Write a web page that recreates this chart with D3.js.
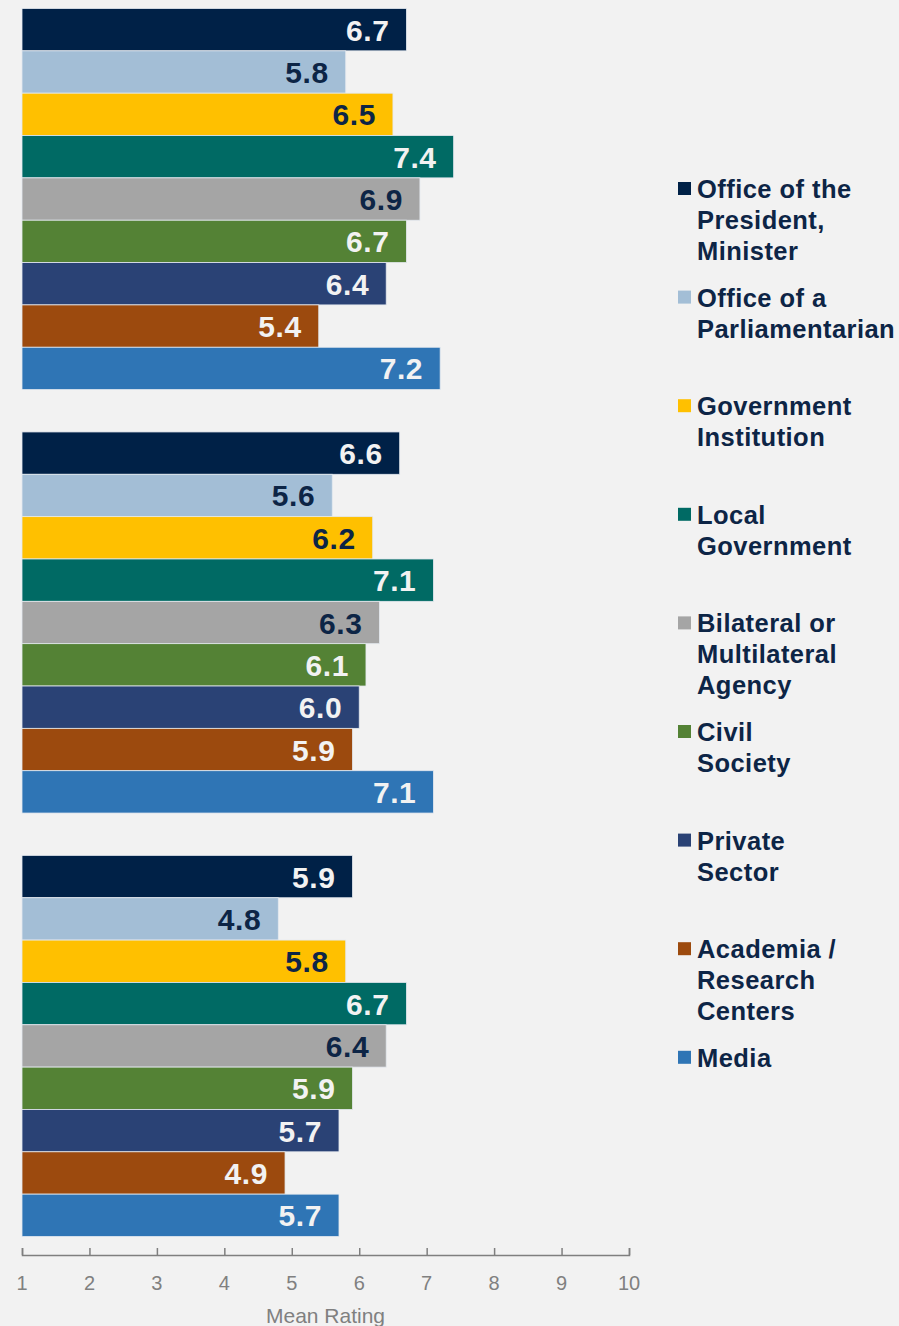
<!DOCTYPE html>
<html>
<head>
<meta charset="utf-8">
<script src="https://cdn.jsdelivr.net/npm/d3@7"></script>
<style>
  html, body { margin: 0; padding: 0; background: #F2F2F2; }
  svg { display: block; }
</style>
</head>
<body>
<svg id="chart" width="899" height="1326"></svg>
<script>
const seriesNames = [
  ["Office of the", "President,", "Minister"],
  ["Office of a", "Parliamentarian"],
  ["Government", "Institution"],
  ["Local", "Government"],
  ["Bilateral or", "Multilateral", "Agency"],
  ["Civil", "Society"],
  ["Private", "Sector"],
  ["Academia /", "Research", "Centers"],
  ["Media"]
];
const seriesColors = ["#002147", "#A3BED6", "#FFC000", "#006A64", "#A5A5A5", "#548235", "#2A4275", "#9C4A0E", "#2F75B5"];
const labelColors = ["#F2F2F2", "#0D2546", "#0D2546", "#F2F2F2", "#0D2546", "#F2F2F2", "#F2F2F2", "#F2F2F2", "#F2F2F2"];
const group1 = [6.7, 5.8, 6.5, 7.4, 6.9, 6.7, 6.4, 5.4, 7.2];
const group2 = [6.6, 5.6, 6.2, 7.1, 6.3, 6.1, 6.0, 5.9, 7.1];
const group3 = [5.9, 4.8, 5.8, 6.7, 6.4, 5.9, 5.7, 4.9, 5.7];
const groups = [group1, group2, group3];
const xTicks = [1, 2, 3, 4, 5, 6, 7, 8, 9, 10];
const xTitle = "Mean Rating";

const svg = d3.select("#chart");
const x = d3.scaleLinear().domain([1, 10]).range([22, 629]);

const slots = [];
groups.forEach((g, gi) => {
  g.forEach((v, si) => slots.push({ key: gi + "-" + si, g: gi, s: si, v: v }));
  if (gi < groups.length - 1) slots.push({ key: "gap" + gi, gap: true });
});
const y = d3.scaleBand().domain(slots.map(d => d.key)).range([8.5, 1236.5]).padding(0);

const bars = slots.filter(d => !d.gap);

svg.append("g").selectAll("rect").data(bars).join("rect")
  .attr("x", x(1))
  .attr("y", d => y(d.key))
  .attr("width", d => x(d.v) - x(1))
  .attr("height", y.bandwidth())
  .attr("fill", d => seriesColors[d.s])
  .attr("stroke", "#E4E9EF")
  .attr("stroke-width", 0.8);

svg.append("g").selectAll("text").data(bars).join("text")
  .attr("x", d => x(d.v) - 17)
  .attr("y", d => y(d.key) + y.bandwidth() / 2 + 11)
  .attr("text-anchor", "end")
  .attr("font-family", "Liberation Sans, Arial, sans-serif")
  .attr("font-weight", "bold")
  .attr("font-size", 30)
  .attr("letter-spacing", 0.6)
  .attr("fill", d => labelColors[d.s])
  .text(d => d3.format(".1f")(d.v));

const axisY = 1255;
const axis = d3.axisTop(x).tickValues(xTicks).tickSize(7).tickSizeOuter(7).tickFormat("");
const ag = svg.append("g").attr("transform", `translate(0,${axisY})`).call(axis);
ag.selectAll("path, line").attr("stroke", "#7F7F7F").attr("stroke-width", 1.5);

svg.append("g").selectAll("text").data(xTicks).join("text")
  .attr("x", d => x(d))
  .attr("y", 1290)
  .attr("text-anchor", "middle")
  .attr("font-family", "Liberation Sans, Arial, sans-serif")
  .attr("font-size", 20)
  .attr("fill", "#808080")
  .text(d => d);

svg.append("text")
  .attr("x", (x(1) + x(10)) / 2)
  .attr("y", 1323)
  .attr("text-anchor", "middle")
  .attr("font-family", "Liberation Sans, Arial, sans-serif")
  .attr("font-size", 21)
  .attr("fill", "#808080")
  .text(xTitle);

const legendTop = 189;
const legendStep = 108.6;
const lineH = 31;
const lg = svg.append("g").selectAll("g").data(seriesNames).join("g")
  .attr("transform", (d, i) => `translate(678,${legendTop + i * legendStep})`);
lg.append("rect")
  .attr("x", 0).attr("y", -7).attr("width", 13).attr("height", 13)
  .attr("fill", (d, i) => seriesColors[i]);
lg.append("text")
  .attr("font-family", "Liberation Sans, Arial, sans-serif")
  .attr("font-weight", "bold")
  .attr("font-size", 25.5)
  .attr("letter-spacing", 0.45)
  .attr("fill", "#0D2546")
  .selectAll("tspan").data(d => d).join("tspan")
  .attr("x", 19)
  .attr("y", (d, j) => j * lineH + 9)
  .text(d => d);
</script>
</body>
</html>
